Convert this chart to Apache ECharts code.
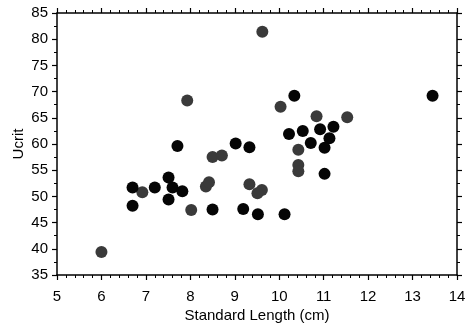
<!DOCTYPE html>
<html>
<head>
<meta charset="utf-8">
<script src="https://cdn.jsdelivr.net/npm/echarts@6/dist/echarts.min.js"></script>
<style>html,body{margin:0;padding:0;background:#fff;}#c{width:469px;height:330px;}</style>
</head>
<body>
<div id="c"></div>
<script>
// Solid black symbols: [standard length (cm), Ucrit]
var blackLength = [6.70, 6.70, 7.20, 7.71, 7.51, 7.60, 7.82, 7.51, 8.50, 9.02, 9.33, 9.19, 9.52, 10.12, 10.34, 10.22, 10.53, 10.92, 11.22, 10.71, 11.13, 11.02, 11.02, 13.45];
var blackUcrit  = [51.7, 48.2, 51.7, 59.6, 53.6, 51.7, 51.0, 49.4, 47.5, 60.1, 59.4, 47.6, 46.6, 46.6, 69.2, 61.9, 62.5, 62.8, 63.3, 60.2, 61.1, 59.3, 54.3, 69.2];
// Stippled grey symbols
var greyLength = [6.00, 6.92, 8.02, 8.35, 8.42, 8.50, 8.71, 9.33, 9.61, 9.51, 10.43, 10.43, 10.43, 10.03, 10.84, 11.53, 9.62, 7.93];
var greyUcrit  = [39.4, 50.8, 47.4, 51.9, 52.7, 57.5, 57.8, 52.3, 51.2, 50.6, 58.9, 56.0, 54.8, 67.1, 65.3, 65.1, 81.4, 68.3];
var xTicks = [5, 6, 7, 8, 9, 10, 11, 12, 13, 14];
var yTicks = [35, 40, 45, 50, 55, 60, 65, 70, 75, 80, 85];

function pairs(a, b) { return a.map(function (v, i) { return [v, b[i]]; }); }

var font = 'Liberation Sans, Arial, sans-serif';
var lineStyle = { color: '#000', width: 1.5 };
function xAxisDef(pos, show) {
  return {
    type: 'value', position: pos, min: xTicks[0], max: xTicks[xTicks.length - 1], interval: 1,
    axisLine: { show: true, onZero: false, lineStyle: lineStyle },
    axisTick: { show: true, length: 5, lineStyle: { color: '#000', width: 1.2 } },
    minorTick: { show: true, splitNumber: 5, length: 3, lineStyle: { color: '#000', width: 1 } },
    splitLine: { show: false },
    axisLabel: { show: show, color: '#000', fontSize: 15, fontFamily: font, margin: 14 },
    name: show ? 'Standard Length (cm)' : '', nameLocation: 'middle', nameGap: 33,
    nameMoveOverlap: false,
    nameTextStyle: { color: '#000', fontSize: 15, fontFamily: font }
  };
}
function yAxisDef(pos, show) {
  return {
    type: 'value', position: pos, min: yTicks[0], max: yTicks[yTicks.length - 1], interval: 5,
    axisLine: { show: true, onZero: false, lineStyle: lineStyle },
    axisTick: { show: true, length: 5, lineStyle: { color: '#000', width: 1.2 } },
    minorTick: { show: true, splitNumber: 2, length: 3, lineStyle: { color: '#000', width: 1 } },
    splitLine: { show: false },
    axisLabel: { show: show, color: '#000', fontSize: 15, fontFamily: font, margin: 9 },
    name: show ? 'Ucrit' : '', nameLocation: 'middle', nameGap: 31,
    nameMoveOverlap: false,
    nameTextStyle: { color: '#000', fontSize: 15, fontFamily: font }
  };
}

var chart = echarts.init(document.getElementById('c'), null, { renderer: 'canvas' });
chart.setOption({
  animation: false,
  backgroundColor: '#fff',
  grid: { left: 57, right: 12, top: 13, bottom: 55, containLabel: false, outerBoundsMode: 'none' },
  xAxis: [xAxisDef('bottom', true), xAxisDef('top', false)],
  yAxis: [yAxisDef('left', true), yAxisDef('right', false)],
  series: [
    { type: 'scatter', xAxisIndex: 0, yAxisIndex: 0, symbol: 'circle', symbolSize: 12,
      itemStyle: { color: '#3a3a3a', opacity: 1 }, data: pairs(greyLength, greyUcrit) },
    { type: 'scatter', xAxisIndex: 0, yAxisIndex: 0, symbol: 'circle', symbolSize: 12,
      itemStyle: { color: '#050505', opacity: 1 }, data: pairs(blackLength, blackUcrit) }
  ]
});
</script>
</body>
</html>
